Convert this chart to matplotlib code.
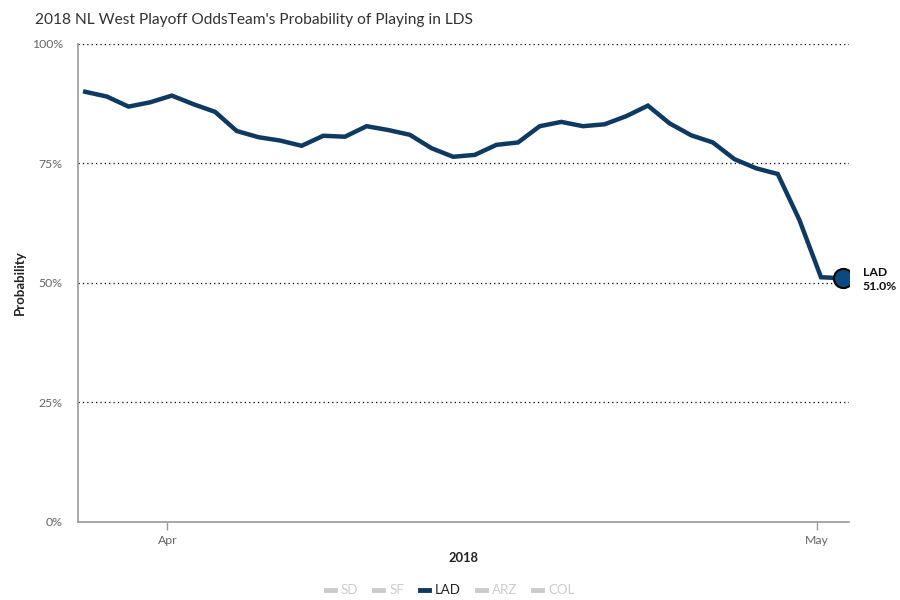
import matplotlib
matplotlib.use("Agg")
import matplotlib.pyplot as plt
import matplotlib.dates as mdates
from matplotlib.lines import Line2D
import pandas as pd

plt.rcParams['font.family'] = ['Lato', 'DejaVu Sans']

title = "2018 NL West Playoff OddsTeam's Probability of Playing in LDS"
teams = ["SD", "SF", "LAD", "ARZ", "COL"]
active_team = "LAD"
dates = pd.date_range("2018-03-28 05:00", periods=36, freq="D")
lad_prob = [90.0, 89.0, 86.9, 87.8, 89.2, 87.4, 85.8, 81.8, 80.5, 79.8,
            78.7, 80.8, 80.6, 82.8, 82.0, 81.0, 78.2, 76.4, 76.8, 78.9,
            79.4, 82.8, 83.7, 82.8, 83.2, 84.9, 87.1, 83.4, 80.9, 79.4,
            75.9, 74.0, 72.8, 63.2, 51.2, 51.0]
y_ticks = [0, 25, 50, 75, 100]
y_tick_labels = ["0%", "25%", "50%", "75%", "100%"]

line_color = "#0e3a62"
inactive = "#cccccc"

fig = plt.figure(figsize=(9, 6), dpi=100)
ax = fig.add_axes([0.0867, 0.13, 0.8566, 0.7967])

ax.plot(dates, lad_prob, color=line_color, lw=3.2, solid_joinstyle='miter', zorder=3)
ax.scatter([dates[-1]], [lad_prob[-1]], s=190, facecolor="#0b4a80", edgecolor="black",
           linewidth=1.5, zorder=4)
ax.annotate(f"{active_team}\n{lad_prob[-1]:.1f}%", xy=(dates[-1], lad_prob[-1]),
            xytext=(14.5, -1), textcoords="offset points", ha="left", va="center",
            fontsize=8.8, fontweight="bold", color="#111111", linespacing=1.25,
            annotation_clip=False)

ax.set_xlim(pd.Timestamp("2018-03-27 21:00"), pd.Timestamp("2018-05-02 12:00"))
ax.set_ylim(0, 100)
ax.set_yticks(y_ticks)
ax.set_yticklabels(y_tick_labels)
for yv in y_ticks[1:]:
    ax.axhline(yv, color="black", lw=0.9, ls=(0, (1, 2.5)), zorder=1)

ax.xaxis.set_major_locator(mdates.MonthLocator())
ax.xaxis.set_major_formatter(mdates.DateFormatter("%b"))

for s in ["top", "right"]:
    ax.spines[s].set_visible(False)
for s in ["left", "bottom"]:
    ax.spines[s].set_color("#999999")
    ax.spines[s].set_linewidth(1.2)

ax.tick_params(axis="y", length=0, pad=11, labelsize=8.8, labelcolor="#666666")
ax.tick_params(axis="x", length=6, width=1, color="#999999", pad=3,
               labelsize=8.8, labelcolor="#666666")

ax.set_ylabel("Probability", fontsize=9.5, fontweight="bold", color="#222222", labelpad=4)
ax.set_xlabel("2018", fontsize=9.3, fontweight="bold", color="#222222", labelpad=5)

fig.text(0.0389, 0.967, title, fontsize=11.2, color="#333333", ha="left", va="center")

handles = [Line2D([0], [0], color=(line_color if t == active_team else inactive), lw=3.5)
           for t in teams]
leg = fig.legend(handles, teams, loc="center", bbox_to_anchor=(0.5, 0.016), ncol=5,
                 frameon=False, fontsize=9.5, handlelength=0.7, handletextpad=0.45,
                 columnspacing=1.2)
for t, txt in zip(teams, leg.get_texts()):
    txt.set_color("#222222" if t == active_team else inactive)

fig.savefig("out.png", dpi=100)
